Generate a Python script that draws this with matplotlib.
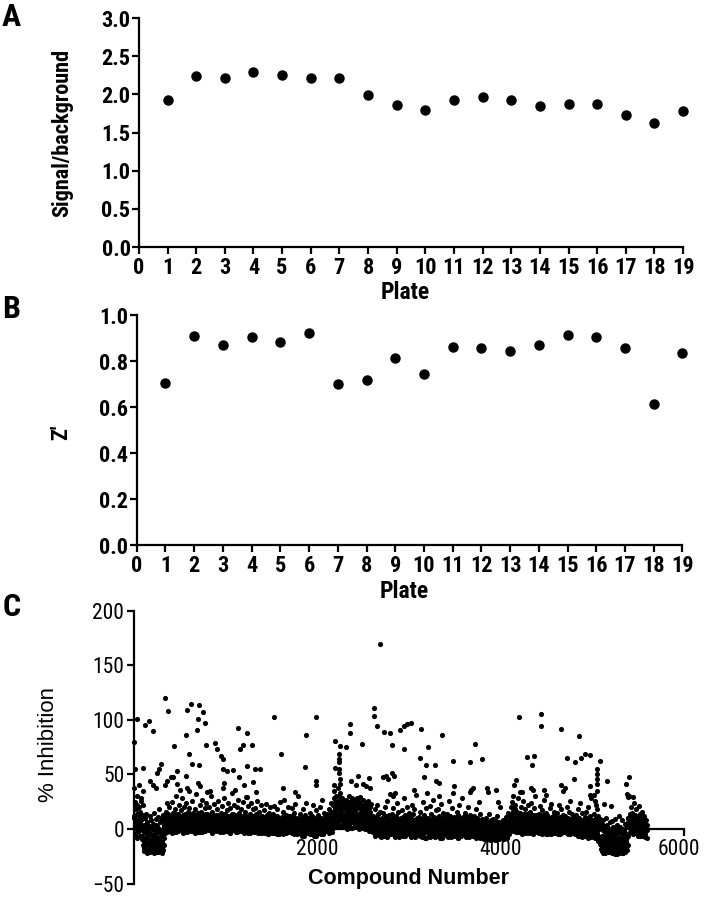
import os
import numpy as np
import matplotlib
matplotlib.use("Agg")
import matplotlib.pyplot as plt
import matplotlib.transforms as mtransforms
from matplotlib import font_manager
from matplotlib.font_manager import FontProperties

# panel A / B: per-plate QC values
plates = list(range(1, 20))
signal_bg = [1.92, 2.24, 2.21, 2.29, 2.26, 2.21, 2.22, 1.99, 1.86, 1.80,
             1.93, 1.96, 1.92, 1.85, 1.87, 1.87, 1.73, 1.62, 1.78]
z_prime = [0.703, 0.907, 0.869, 0.904, 0.884, 0.923, 0.699, 0.718, 0.812, 0.743,
           0.862, 0.856, 0.842, 0.869, 0.914, 0.903, 0.855, 0.613, 0.836]

# panel C: bulk of the screen, read as one value every 5 compounds
# (each row = 100 compounds); two interleaved passes, outer spread and core
band_step = 5
band_rows = [
    [38, 12, -5, 25, 3, 18, -8, 30, 8, -2, 20, 40, 5, -6, 15, 28, 0, 10, -9, 22],
    [-15, 4, -20, 10, -8, -18, 14, -3, -22, 6, -12, -19, 2, -10, 12, -21, -5, 8, -16, 0],
    [-20, 5, -12, -22, 15, -6, -17, 9, -2, -21, 3, -14, 11, -19, -8, 18, -11, -3, -20, 7],
    [-18, 10, -22, -6, 13, -15, 2, 8, -4, 16, 1, 24, -3, 9, 5, 14, -2, 20, 6, 11],
    [3, 12, -4, 25, 7, 0, 15, 9, -3, 18, 4, 30, 1, 11, 6, -2, 14, 8, 22, 2],
    [10, -1, 17, 5, 28, 2, 12, -4, 8, 20, 0, 14, 6, 3, 24, 9, -3, 16, 5, 11],
    [6, 19, 1, 9, -2, 14, 4, 26, 7, 0, 12, 3, 18, -4, 8, 32, 2, 10, 5, 15],
    [0, 11, 7, 22, -3, 5, 16, 2, 9, 27, 1, 13, -2, 6, 19, 4, 8, 24, 0, 12],
    [14, 3, 8, -1, 20, 5, 11, 30, 2, 7, -4, 16, 4, 10, 1, 23, 6, -2, 13, 9],
    [5, 18, 0, 9, 26, 3, 12, -3, 7, 15, 2, 21, 8, -1, 11, 4, 28, 6, 14, 1],
    [10, -2, 7, 17, 3, 24, 0, 12, 5, -4, 19, 8, 2, 14, 33, 6, -1, 11, 4, 22],
    [3, 13, 6, -3, 20, 1, 9, 27, 4, 15, -2, 8, 12, 2, 18, 5, 0, 25, 7, 10],
    [8, 1, 16, 4, 29, -2, 11, 6, 21, 3, 9, 0, 14, 7, -4, 24, 5, 12, 2, 18],
    [2, 12, -3, 8, 19, 5, 0, 14, 3, 26, -1, 9, 6, 16, 1, 11, -4, 7, 22, 4],
    [6, -2, 10, 3, 17, 0, 8, 23, -3, 5, 13, 1, 9, -5, 15, 4, 20, 2, 7, 11],
    [0, 9, -4, 14, 3, 6, 21, -2, 8, 1, 12, -5, 4, 18, 2, 10, -1, 7, 25, 5],
    [4, -3, 11, 1, 7, 16, -1, 5, 27, 2, 9, -4, 13, 3, 0, 20, 6, -2, 10, 8],
    [12, 2, -2, 8, 19, 4, 0, 10, -5, 6, 15, 1, 23, 3, -1, 9, 5, 30, 2, 7],
    [3, -4, 8, 14, 0, 6, -6, 11, 2, 18, -2, 5, 9, -3, 13, 1, 24, 4, -1, 7],
    [-2, 6, 10, -5, 3, 15, 0, 8, -3, 12, 1, 22, -4, 5, 9, 2, -6, 17, 4, 11],
    [5, 0, 13, -3, 8, 2, 20, -5, 6, 10, -1, 27, 3, -4, 9, 15, 1, 7, -2, 12],
    [8, -2, 14, 4, 0, 18, -4, 6, 11, 2, 24, -3, 9, 5, 16, 1, 12, 35, 20, 7],
    [15, 30, 5, 22, 38, 10, 26, 55, 18, 33, 8, 24, 2, 28, 12, 20, 4, 26, 14, 9],
    [22, 5, 27, 12, 0, 18, 25, 8, 30, 3, 15, 21, 10, 26, 1, 19, 28, 6, 13, 24],
    [9, 26, 2, 17, 23, 11, 28, 4, 20, 14, 0, 25, 7, 19, 29, 12, 3, 22, 16, 8],
    [27, 4, 15, 21, 0, 10, 24, 6, 18, 2, 13, 26, 9, -2, 20, 5, 16, 1, 23, 11],
    [5, -3, 12, 0, 8, 18, -5, 3, 10, -1, 22, 6, -4, 14, 2, 9, -6, 16, 4, 1],
    [-2, 10, 4, -6, 15, 1, 7, -4, 20, 3, 12, -1, 6, 26, -5, 9, 2, 13, -3, 5],
    [8, -5, 3, 14, -2, 6, 19, 0, 10, -7, 4, 12, -3, 24, 1, 7, -4, 16, 5, 2],
    [0, 9, -4, 5, 17, 2, -6, 11, 4, 28, -2, 7, 13, -5, 3, 20, 1, 8, -3, 15],
    [6, -3, 12, 1, -7, 9, 22, 3, -2, 14, 5, -5, 18, 0, 8, 31, -4, 10, 2, 7],
    [-5, 4, 11, -2, 7, 16, 0, -6, 9, 3, 25, -3, 6, 13, 1, -8, 10, 4, 19, -1],
    [3, 10, -4, 6, 0, 21, -7, 8, 2, 14, -3, 5, 27, 1, -5, 11, 4, -2, 17, 7],
    [9, -2, 5, 18, -6, 2, 12, -4, 7, 0, 23, 4, -8, 10, 3, 15, -1, 6, -5, 13],
    [-3, 7, 14, 0, -6, 10, 3, 26, -2, 5, 12, -7, 8, 1, 19, -4, 6, 33, 2, 11],
    [4, -5, 9, 2, 16, -3, 6, -8, 13, 1, 22, -2, 7, 10, -6, 4, 28, 0, 11, -4],
    [1, 8, -4, 15, 3, -7, 11, 5, -2, 20, 0, 9, -5, 13, 6, 36, 2, -3, 10, 4],
    [-6, 5, 12, -2, 8, 0, 18, -8, 4, 10, -4, 2, 25, -1, 7, -7, 14, 3, -3, 9],
    [-4, 3, -8, 7, -1, 5, -9, 2, 10, -5, 0, 6, -7, 4, 14, -3, 1, -10, 8, -2],
    [2, -6, 5, -2, 9, -8, 0, 4, -10, 7, -4, 1, 12, -7, 3, -1, 6, -9, 20, -3],
    [-7, 1, 6, -4, 3, -9, 8, -2, 0, 5, -6, 11, -3, 2, -8, 4, 15, -1, 7, -5],
    [3, 12, -2, 8, 25, 0, 18, 30, 5, 40, 14, 2, 22, 9, -3, 16, 6, 28, 1, 11],
    [8, -3, 15, 4, 20, 1, 10, -5, 6, 26, 2, 12, -2, 18, 5, 9, -4, 14, 0, 22],
    [2, 11, -4, 7, 16, -1, 5, 24, 0, 9, -5, 13, 3, 19, -2, 8, 30, 4, 12, -3],
    [10, 0, 6, -4, 14, 3, 21, -2, 8, 1, 17, -5, 5, 12, 27, 2, -3, 9, 4, 15],
    [-2, 7, 13, 1, -5, 10, 4, 19, -1, 6, 23, 0, 11, -4, 8, 3, 16, -3, 5, 12],
    [5, -4, 9, 2, 15, -2, 7, 22, 0, 11, -5, 4, 18, 1, 8, -3, 13, 35, 6, 3],
    [12, 1, -3, 8, 20, 4, -5, 10, 2, 16, -1, 6, 26, 0, 9, -4, 14, 3, 7, -2],
    [0, 9, -5, 4, 13, -2, 7, 1, 18, -6, 5, 10, -3, 24, 2, 8, -4, 15, 3, -1],
    [-4, 6, 2, 11, -6, 4, 16, -2, 8, 0, 20, -5, 3, 9, -7, 12, 1, 5, 28, -3],
    [3, -5, 8, -2, 14, -7, 5, 0, 10, 22, 18, 35, -6, 12, -10, 4, -14, 9, -18, 1],
    [-12, 5, -20, -6, 8, -16, -2, -22, 3, -10, -18, 10, -14, -4, -21, 1, -8, -19, 6, -13],
    [-20, -3, -15, 7, -22, -9, 2, -17, -12, 9, -21, -5, -18, 4, -11, -23, -1, -16, 12, -8],
    [-14, 2, -21, -7, 8, -18, -11, 0, -22, -4, -16, 5, -20, -9, -13, 3, -19, -6, 10, -15],
    [5, 30, 12, -3, 20, 8, 0, 15, 3, -5, 10, 24, 2, 13, -2, 7, 18, 1, 9, -6],
    [4, 11, -3, 7, 14, -6, 2, 9, 0, 16, -4, 6, 12, -2, 5, 1, -7, 8, 3, -1],
]
core_rows = [
    [10, 2, 18, 6, -4, 14, 0, 22, 8, 4, 12, -2, 16, 6, 26, 3, 9, -6, 13, 1],
    [-10, -3, -17, 2, -13, -7, -20, 5, -15, -1, -9, -21, -5, 0, -18, -11, 3, -14, -6, -19],
    [-8, -16, 0, -12, -20, -4, -10, 4, -18, -7, -14, 1, -21, -9, -3, -17, -12, 6, -6, -15],
    [-12, -4, -19, 0, -8, 4, 10, 0, 6, 2, 8, -1, 12, 3, 7, -2, 10, 4, 1, 8],
    [5, 0, 9, 2, 12, -2, 7, 3, 14, 1, 6, -3, 10, 4, 8, 0, 11, 3, -1, 6],
    [2, 8, -1, 11, 4, 0, 7, 13, 3, -3, 9, 5, 1, 12, 6, -2, 4, 10, 0, 7],
    [9, 3, 0, 6, 12, 2, -2, 8, 5, 15, 1, 7, -1, 10, 4, 0, 13, 6, 2, -3],
    [4, -1, 10, 6, 1, 13, 3, -3, 8, 2, 11, 5, 0, 7, 14, -2, 9, 3, 6, 1],
    [7, 2, 12, -1, 5, 9, 0, 14, 4, -3, 8, 3, 11, 1, 6, -2, 10, 5, 0, 8],
    [1, 11, 4, -2, 8, 3, 13, 0, 6, 10, -1, 5, 2, 9, -3, 7, 12, 1, 4, 6],
    [6, 3, -2, 9, 1, 12, 5, 0, 8, -4, 11, 2, 7, -1, 4, 14, 0, 6, 9, 2],
    [0, 7, 11, 2, -3, 6, 13, 4, 1, 9, -1, 5, 10, 3, -2, 8, 1, 12, 4, -4],
    [3, 10, 0, 6, 2, 12, -2, 8, 4, -4, 9, 1, 13, 5, 0, 7, -1, 10, 3, 6],
    [8, -1, 5, 1, 10, -3, 6, 2, 11, 0, 4, -4, 8, 3, -2, 9, 1, 6, -1, 12],
    [-1, 4, 1, 8, -4, 5, 11, 0, 3, -2, 7, 2, -5, 9, 1, 4, -3, 10, 0, 5],
    [4, -2, 7, 0, 10, -4, 3, 1, 8, -3, 5, 12, -1, 2, 6, -5, 9, 0, 3, -2],
    [-3, 6, 0, 9, -5, 2, 4, -2, 11, 1, -4, 7, 3, -1, 8, -3, 5, 12, 0, 2],
    [5, -2, 9, 1, -4, 7, 3, 12, -1, 4, 0, 8, -3, 6, 2, -5, 10, 1, 4, -1],
    [0, 4, -3, 7, 2, -5, 9, 1, -2, 5, -6, 3, 8, 0, -4, 6, 2, -1, 10, -3],
    [3, -4, 6, 0, -2, 8, -5, 4, 1, -3, 7, 2, -6, 5, 0, 9, -4, 3, -1, 6],
    [-1, 7, 2, -4, 5, 0, 9, 3, -3, 6, 1, -5, 8, 2, -2, 4, 11, -1, 5, 0],
    [4, 9, -1, 6, 2, 13, 0, 8, -3, 5, 16, 3, 10, 22, 7, 28, 12, 40, 18, 25],
    [10, 20, 3, 14, 25, 6, 18, 30, 12, 2, 22, 8, 16, 4, 27, 11, 19, 7, 24, 13],
    [12, 18, 3, 22, 8, 15, 5, 20, 10, 25, 2, 17, 9, 23, 6, 14, 1, 19, 11, 16],
    [16, 4, 21, 10, 2, 18, 7, 24, 13, 5, 20, 9, 15, 3, 22, 11, 6, 17, 1, 14],
    [3, 14, 8, 19, 5, 12, 1, 17, 9, 22, 4, 11, 15, 0, 8, 3, 10, -2, 6, 2],
    [0, 6, -3, 9, 2, -6, 5, 1, 11, -2, 4, -5, 8, 0, 3, -4, 7, 1, -7, 4],
    [5, -4, 2, 8, -1, 3, -6, 10, 0, 6, -3, 4, -7, 2, 9, -2, 5, 0, 7, -5],
    [-3, 4, 9, 0, 6, -5, 2, -1, 7, 3, -6, 5, 1, -4, 10, 0, -2, 6, -7, 3],
    [6, -2, 1, 10, -5, 4, 0, 7, -3, 2, 8, -6, 3, 1, -4, 6, -1, 11, 2, -5],
    [1, 7, -4, 4, 0, -6, 3, 9, -1, 5, -3, 2, -7, 6, 1, -2, 8, 3, -5, 0],
    [3, -1, 6, -6, 2, 8, -3, 4, 1, -7, 5, 0, 9, -4, 3, -2, 6, -8, 2, 7],
    [-2, 5, 1, -5, 8, 3, -1, 6, -4, 0, 9, 2, -6, 4, 7, -3, 1, -7, 5, 0],
    [4, 0, -6, 7, 2, -3, 5, 1, -8, 6, -1, 3, 9, -5, 0, 4, -2, 8, 1, -4],
    [0, 4, -2, 6, -7, 3, 1, -4, 8, 0, -5, 5, 2, -3, 10, -1, 4, -6, 7, 2],
    [-1, 6, 2, -5, 4, 0, -8, 7, 1, -3, 5, -6, 3, 0, 9, -2, 6, -4, 2, 8],
    [5, -2, 3, -6, 7, 0, 4, -4, 9, 1, -7, 6, 2, -3, 8, 0, -5, 5, 1, -1],
    [2, -5, 6, 0, -3, 4, -7, 3, 8, -1, 5, -4, 1, 7, -8, 2, 0, -6, 5, 3],
    [-6, 0, -3, 4, -9, 1, -5, 3, -7, -1, 5, -4, 0, -8, 2, -2, 6, -6, 1, -3],
    [-1, -7, 2, -4, 4, -9, -2, 1, -6, 3, -10, 0, -3, 5, -8, 2, -5, 0, -7, 4],
    [-4, 2, -8, 0, -5, 4, -2, -9, 1, -6, 3, -3, 6, -7, 0, -1, 5, -4, 2, 8],
    [6, 14, 2, 20, 9, 0, 16, 4, 11, -2, 8, 18, 3, 12, 1, 7, -3, 10, 5, 2],
    [3, 9, -1, 6, 12, 0, 4, -4, 8, 2, 14, -2, 6, 1, 10, -3, 5, 11, 2, 7],
    [7, 0, 5, -3, 10, 3, -1, 8, 2, 12, -4, 6, 1, 9, -2, 4, 13, 0, 6, 3],
    [1, 5, -2, 9, 2, -4, 7, 0, 11, 4, -1, 6, 13, 2, -3, 8, 0, 5, -5, 10],
    [4, -3, 8, 2, 11, -1, 5, 0, 9, -5, 3, 7, -2, 12, 1, -4, 6, 2, 10, -1],
    [0, 6, -3, 10, 3, -5, 7, 1, 4, -2, 9, 0, -4, 6, 2, 11, -1, 5, -3, 8],
    [5, -2, 4, 0, 9, -4, 2, 7, -1, 3, -5, 8, 1, 5, -3, 6, 0, 10, -2, 4],
    [-2, 4, 1, -5, 7, 0, 3, -3, 9, 2, -6, 5, 0, -2, 8, -4, 3, 1, -7, 6],
    [3, -6, 5, 0, -3, 8, -1, 4, -5, 2, -8, 6, 0, -4, 3, -2, 7, -7, 1, 5],
    [-3, 2, -6, 4, 0, -8, 8, -2, 5, -4, 10, 2, -11, 6, -7, 0, -12, 3, -15, -9],
    [-6, -18, -1, -13, -22, -8, 2, -16, -11, -4, -20, -7, 4, -15, -10, -19, -3, -12, -21, -5],
    [-10, -17, -6, -21, -13, -2, -19, -8, -14, -23, -5, -12, 0, -20, -9, -16, -4, -22, -11, -18],
    [-8, -19, -3, -15, -10, -22, -6, -17, -1, -13, -21, -9, -4, -18, -12, -7, 2, 6, 10, 4],
    [8, 2, 14, 5, 0, 10, 4, 12, -2, 7, 1, 9, 3, -4, 11, 6, 0, 8, -3, 5],
    [2, -4, 6, 0, 9, -2, 4, -6, 1, 7, -3, 3, 10, -1, 5, -5, 2, 0, -8, 4],
]

# panel C: scattered hits above the bulk
hit_compound = [5, 8, 36, 95, 101, 120, 167, 174, 203, 203, 240, 247, 276, 291, 338, 338,
                363, 374, 400, 430, 436, 465, 472, 502, 567, 567, 582, 582, 603, 603, 618,
                629, 684, 702, 702, 712, 712, 720, 749, 774, 785, 796, 832, 883, 902, 945,
                967, 967, 971, 978, 1018, 1083, 1098, 1137, 1148, 1156, 1185, 1198, 1229,
                1236, 1236, 1283, 1301, 1320, 1330, 1374, 1530, 1603, 1628, 1756, 1865,
                1872, 1981, 1981, 1988, 2192, 2192, 2235, 2238, 2240, 2242, 2244, 2246,
                2248, 2319, 2355, 2355, 2370, 2420, 2446, 2483, 2500, 2530, 2562, 2580,
                2617, 2617, 2653, 2680, 2718, 2726, 2755, 2773, 2790, 2799, 2817, 2821,
                2825, 2835, 2850, 2900, 2944, 2944, 2981, 3028, 3054, 3119, 3137, 3170,
                3192, 3200, 3210, 3283, 3297, 3333, 3333, 3356, 3482, 3493, 3664, 3664,
                3700, 3719, 3798, 3849, 3867, 3947, 3976, 4173, 4198, 4214, 4239, 4293,
                4330, 4344, 4359, 4366, 4438, 4438, 4479, 4497, 4656, 4656, 4700, 4729,
                4802, 4809, 4853, 4875, 4918, 4973, 4973, 4973, 5018, 5030, 5055, 5055,
                5055, 5055, 5082, 5126, 5162, 5209, 5365, 5383, 5394, 5398, 5448, 5510]
hit_inhibition = [80, 55, 101, 56, 35, 95, 99, 44, 90, 40, 38, 51, 55, 60, 120, 40,
                  44, 108, 48, 48, 76, 41, 53, 36, 86, 49, 109, 38, 69, 35, 115,
                  60, 91, 101, 42, 114, 59, 39, 107, 97, 77, 34, 35, 79, 73, 67,
                  64, 55, 38, 42, 53, 54, 36, 93, 48, 73, 77, 40, 88,
                  58, 29, 77, 43, 55, 34, 55, 103, 69, 38, 34, 57,
                  86, 44, 40, 103, 81, 56, 69, 64, 61, 51, 46, 76,
                  41, 75, 96, 88, 44, 40, 49, 78, 41, 39, 47, 38,
                  111, 104, 94, 170, 48, 89, 49, 46, 32, 88, 51, 77,
                  30, 49, 33, 91, 94, 73, 96, 97, 36, 65, 92, 48,
                  59, 33, 75, 59, 44, 42, 30, 86, 62, 39, 61, 34,
                  38, 78, 64, 38, 34, 36, 25, 45, 103, 34, 34, 66,
                  38, 59, 36, 67, 105, 94, 36, 31, 92, 40, 38, 65,
                  46, 61, 85, 65, 69, 68, 39, 31, 31, 26, 55, 50,
                  46, 41, 62, 23, 44, 21, 41, 32, 29, 48, 29, 21]

band_values = np.concatenate([np.array(r, dtype=float) for r in band_rows])
band_compound = np.arange(1, len(band_values) * band_step + 1, band_step)
core_values = np.concatenate([np.array(r, dtype=float) for r in core_rows])
core_compound = np.arange(3, len(core_values) * band_step + 3, band_step)


# narrow fonts (Arial Narrow look) if any are installed
def pick_font(candidates, fallback_family, weight):
    files = {os.path.basename(f.fname).lower(): f.fname
             for f in font_manager.fontManager.ttflist}
    for c in candidates:
        if c in files:
            return lambda size: FontProperties(fname=files[c], size=size)
    return lambda size: FontProperties(family=fallback_family, weight=weight, size=size)


narrow_bold = pick_font(["liberationsansnarrow-bold.ttf", "robotocondensed-bold.ttf",
                         "notosans-condensedbold.ttf", "dejavusanscondensed-bold.ttf"],
                        "Liberation Sans", "bold")
narrow_reg = pick_font(["liberationsansnarrow-regular.ttf", "robotocondensed-regular.ttf",
                        "notosans-condensed.ttf", "dejavusanscondensed.ttf"],
                       "Liberation Sans", "normal")
plt.rcParams["font.family"] = ["Liberation Sans", "DejaVu Sans"]

fig = plt.figure(figsize=(7.05, 8.97), dpi=100)


def style_axes(ax):
    for s in ["top", "right"]:
        ax.spines[s].set_visible(False)
    for s in ["left", "bottom"]:
        ax.spines[s].set_linewidth(1.6)
    ax.tick_params(direction="out", length=5, width=1.6)


def plate_panel(ax, values, ymax, ystep, ylabel):
    ax.plot(plates, values, "o", color="black", markersize=6.5, clip_on=False)
    ax.set_xlim(0, 19)
    ax.set_ylim(0, ymax)
    ax.set_xticks(range(0, 20))
    ax.set_yticks(np.arange(0, ymax + ystep / 2, ystep))
    ax.yaxis.set_major_formatter(plt.FormatStrFormatter("%.1f"))
    style_axes(ax)
    for lab in ax.get_xticklabels() + ax.get_yticklabels():
        lab.set_fontproperties(narrow_bold(16))
    ax.tick_params(axis="x", pad=2)
    ax.tick_params(axis="y", pad=1)
    ax.set_xlabel("Plate", fontproperties=narrow_bold(17), va="center")
    ax.xaxis.set_label_coords(0.49, -0.2)
    ax.set_ylabel(ylabel, fontproperties=narrow_bold(16), va="center")


axA = fig.add_axes([0.197, 0.7246, 0.772, 0.2553])
plate_panel(axA, signal_bg, 3.0, 0.5, "Signal/background")
axA.yaxis.set_label_coords(-0.14, 0.5)

axB = fig.add_axes([0.194, 0.3924, 0.774, 0.2564])
plate_panel(axB, z_prime, 1.0, 0.2, "Z'")
axB.yaxis.set_label_coords(-0.139, 0.49)

axC = fig.add_axes([0.190, 0.0150, 0.780, 0.3040])
for xs, ys in [(band_compound, band_values), (core_compound, core_values),
               (hit_compound, hit_inhibition)]:
    axC.plot(xs, ys, "o", color="black", markersize=3.7, markeredgewidth=0,
             clip_on=False)
axC.set_xlim(0, 6000)
axC.set_ylim(-50, 200)
axC.set_xticks([2000, 4000, 6000])
axC.set_yticks(np.arange(-50, 201, 50))
style_axes(axC)
axC.spines["bottom"].set_position(("data", 0))
axC.tick_params(pad=2)
for lab in axC.get_xticklabels() + axC.get_yticklabels():
    lab.set_fontproperties(narrow_reg(15.5))
# keep the last x label inside the figure
last = axC.get_xticklabels()[-1]
last.set_transform(last.get_transform() +
                   mtransforms.ScaledTranslation(-5 / 100, 0, fig.dpi_scale_trans))
axC.set_xlabel("Compound Number", fontsize=15.5, fontweight="bold", va="center")
axC.xaxis.set_label_coords(0.5, 0.02)
axC.set_ylabel("% Inhibition", fontsize=16, va="center")
axC.yaxis.set_label_coords(-0.155, 0.51)

for lab, x, y in [("A", 11, 17), ("B", 11, 309), ("C", 12, 607)]:
    fig.text(x / 705, 1 - y / 897, lab, fontproperties=narrow_bold(23),
             ha="center", va="center")

fig.savefig("out.png", dpi=100)
